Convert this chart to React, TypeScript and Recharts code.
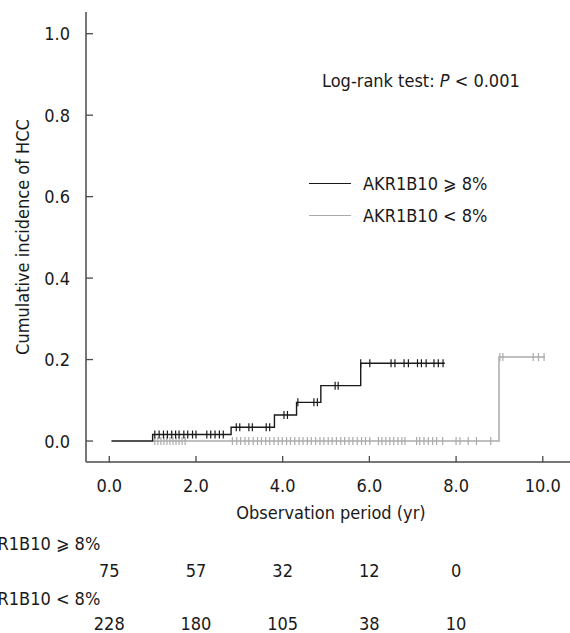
import React from "react";
import {
  ComposedChart,
  Line,
  Scatter,
  XAxis,
  YAxis,
  Legend,
  Label,
} from "recharts";

const FONT = "'DejaVu Sans Condensed', 'DejaVu Sans', sans-serif";
const FS = 18;
const TEXT = "#1a1a1a";
const AXIS = "#4a4a4a";

// curve steps (time in yr, cumulative incidence)
const HIGH_T = [0.05, 1.0, 2.81, 3.81, 4.32, 4.88, 5.8, 7.74];
const HIGH_V = [0, 0.016, 0.034, 0.064, 0.095, 0.136, 0.191, 0.191];
const LOW_T = [1.0, 8.99, 10.05];
const LOW_V = [0, 0.206, 0.206];

// censored observations
const HIGH_CENSOR = [
  1.05, 1.15, 1.25, 1.34, 1.44, 1.53, 1.61, 1.72, 1.81, 1.92, 2.0, 2.25, 2.34,
  2.44, 2.54, 2.63, 2.93, 3.01, 3.22, 3.3, 3.62, 3.7, 4.03, 4.11, 4.35, 4.72,
  4.8, 5.21, 5.28, 5.8, 6.01, 6.5, 6.59, 6.8, 6.9, 7.11, 7.2, 7.31, 7.49, 7.59,
  7.7,
];
const LOW_CENSOR = [
  1.05, 1.12, 1.19, 1.26, 1.33, 1.4, 1.47, 1.54, 1.61, 1.68, 1.75, 2.84, 2.94,
  3.03, 3.13, 3.22, 3.32, 3.42, 3.51, 3.61, 3.7, 3.8, 3.9, 3.99, 4.09, 4.18,
  4.28, 4.38, 4.47, 4.57, 4.66, 4.76, 4.86, 4.95, 5.05, 5.14, 5.24, 5.34, 5.43,
  5.53, 5.62, 5.72, 5.82, 5.91, 6.01, 6.21, 6.29, 6.38, 6.47, 6.56, 6.66, 6.75,
  6.82, 7.09, 7.16, 7.26, 7.36, 7.46, 7.55, 7.69, 8.0, 8.09, 8.28, 8.47, 8.8,
  9.01, 9.08, 9.78, 9.9, 10.03,
];

const X_TICKS = [0, 2, 4, 6, 8, 10];
const Y_TICKS = [0, 0.2, 0.4, 0.6, 0.8, 1.0];
const RISK_HIGH = [75, 57, 32, 12, 0];
const RISK_LOW = [228, 180, 105, 38, 10];

const SERIES = [
  { name: "AKR1B10 \u2a7e 8%", color: "#1a1a1a" },
  { name: "AKR1B10 < 8%", color: "#aaaaaa" },
];

const toPoints = (ts: number[], vs: number[]) => ts.map((t, i) => ({ t, v: vs[i] }));

const levelAt = (ts: number[], vs: number[], t: number) => {
  let v = vs[0];
  ts.forEach((s, i) => {
    if (s <= t + 1e-9) v = vs[i];
  });
  return v;
};

const highLine = toPoints(HIGH_T, HIGH_V);
const lowLine = toPoints(LOW_T, LOW_V);
const highCensor = HIGH_CENSOR.map((t) => ({ t, v: levelAt(HIGH_T, HIGH_V, t) }));
const lowCensor = LOW_CENSOR.map((t) => ({ t, v: levelAt(LOW_T, LOW_V, t) }));

const censorShape = (color: string) => (props: any) => (
  <line x1={props.cx} x2={props.cx} y1={props.cy - 4} y2={props.cy + 4} stroke={color} strokeWidth={1.2} />
);

const YTick = ({ x, y, payload }: any) => (
  <g>
    <line x1={x} x2={x + 7} y1={y} y2={y} stroke={AXIS} strokeWidth={1.3} />
    <text x={x - 16} y={y} textAnchor="end" dominantBaseline="central" fontSize={FS} fill={TEXT} fontFamily={FONT}>
      {payload.value.toFixed(1)}
    </text>
  </g>
);

const XTick = ({ x, y, payload }: any) => {
  const i = X_TICKS.indexOf(payload.value);
  return (
    <g fontFamily={FONT} fontSize={FS} fill={TEXT}>
      <line x1={x} x2={x} y1={y} y2={y - 6} stroke={AXIS} strokeWidth={1.3} />
      <text x={x} y={y + 23} textAnchor="middle" dominantBaseline="central">
        {payload.value.toFixed(1)}
      </text>
      {i === 0 && (
        <>
          <text x={x - 9} y={y + 81} textAnchor="end" dominantBaseline="central">{SERIES[0].name}</text>
          <text x={x - 9} y={y + 136} textAnchor="end" dominantBaseline="central">{SERIES[1].name}</text>
        </>
      )}
      {i < RISK_HIGH.length && (
        <>
          <text x={x} y={y + 108} textAnchor="middle" dominantBaseline="central">{RISK_HIGH[i]}</text>
          <text x={x} y={y + 161} textAnchor="middle" dominantBaseline="central">{RISK_LOW[i]}</text>
        </>
      )}
    </g>
  );
};

const LegendBox = () => (
  <div style={{ fontFamily: FONT, fontSize: FS, color: TEXT }}>
    {SERIES.map((s) => (
      <div key={s.name} style={{ display: "flex", alignItems: "center", height: 32 }}>
        <span style={{ display: "inline-block", width: 42, height: 0, borderTop: `1.3px solid ${s.color}`, marginRight: 12 }} />
        <span>{s.name}</span>
      </div>
    ))}
  </div>
);

export default function App() {
  return (
    <div style={{ position: "absolute", left: 0, top: 0, width: 570, height: 633, background: "#fff" }}>
      <ComposedChart width={570} height={633} margin={{ top: 12, right: 0, bottom: 0, left: 0 }}>
        <XAxis
          type="number"
          dataKey="t"
          domain={[-0.537, 10.628]}
          allowDataOverflow
          ticks={X_TICKS}
          height={171}
          tickLine={false}
          tickSize={0}
          tickMargin={0}
          tick={<XTick />}
          stroke={AXIS}
          strokeWidth={1.5}
        >
          <Label
            content={({ viewBox }: any) => (
              <text x={viewBox.x + viewBox.width / 2 + 3} y={viewBox.y + 50} textAnchor="middle" dominantBaseline="central"
                fontSize={FS} fill={TEXT} fontFamily={FONT}>
                Observation period (yr)
              </text>
            )}
          />
        </XAxis>
        <YAxis
          type="number"
          dataKey="v"
          domain={[-0.0515, 1.0533]}
          allowDataOverflow
          ticks={Y_TICKS}
          width={86}
          tickLine={false}
          tickSize={0}
          tickMargin={0}
          tick={<YTick />}
          stroke={AXIS}
          strokeWidth={1.5}
        >
          <Label
            content={({ viewBox }: any) => {
              const cx = viewBox.x + 22;
              const cy = viewBox.y + viewBox.height / 2;
              return (
                <text x={cx} y={cy} transform={`rotate(-90 ${cx} ${cy})`} textAnchor="middle" dominantBaseline="central"
                  fontSize={FS} fill={TEXT} fontFamily={FONT}>
                  Cumulative incidence of HCC
                </text>
              );
            }}
          />
        </YAxis>
        <Legend
          layout="vertical"
          align="center"
          verticalAlign="middle"
          wrapperStyle={{ position: "absolute", left: 309, top: 167, width: 250 }}
          content={<LegendBox />}
        />
        <Line data={lowLine} dataKey="v" type="stepAfter" stroke={SERIES[1].color} strokeWidth={1.5} dot={false} isAnimationActive={false} />
        <Line data={highLine} dataKey="v" type="stepAfter" stroke={SERIES[0].color} strokeWidth={1.4} dot={false} isAnimationActive={false} />
        <Scatter data={lowCensor} dataKey="v" shape={censorShape(SERIES[1].color)} isAnimationActive={false} />
        <Scatter data={highCensor} dataKey="v" shape={censorShape(SERIES[0].color)} isAnimationActive={false} />
      </ComposedChart>
      <div style={{ position: "absolute", left: 322, top: 70, fontFamily: FONT, fontSize: FS, color: TEXT, whiteSpace: "nowrap" }}>
        Log-rank test: <i>P</i> &lt; 0.001
      </div>
    </div>
  );
}
